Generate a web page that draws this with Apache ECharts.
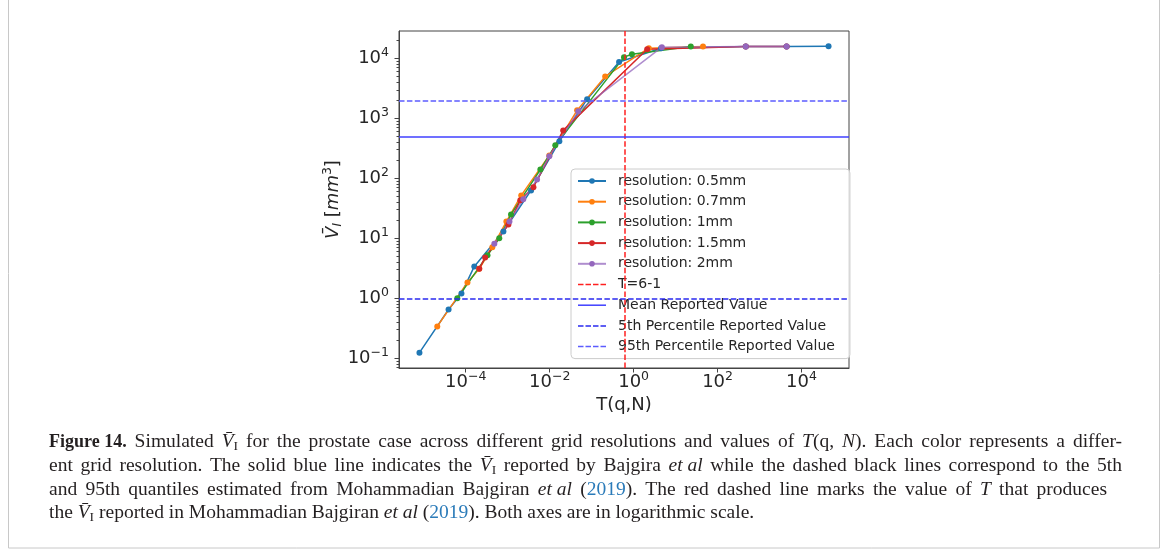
<!DOCTYPE html>
<html>
<head>
<meta charset="utf-8">
<title>Figure 14</title>
<script src="https://cdn.jsdelivr.net/npm/echarts@6/dist/echarts.min.js"></script>
<style>
  html, body { margin: 0; padding: 0; background: #fff; }
  #main { width: 1168px; height: 553px; }
</style>
</head>
<body>
<div id="main"></div>
<script>
// T(q,N) values and simulated volume (mm^3) for each grid resolution
var t05 = [7.9e-6, 3.9e-5, 7.9e-5, 1.6e-4, 7.9e-4, 3.6e-3, 1.7e-2, 7.8e-2, 0.45, 4.5, 470, 4400, 44000];
var v05 = [0.124, 0.65, 1.2, 3.4, 13, 63, 415, 2090, 8700, 14800, 15800, 15800, 15900];
var t07 = [2.1e-5, 1.1e-4, 2.1e-4, 4.3e-4, 9.3e-4, 2.1e-3, 9.8e-3, 0.045, 0.21, 2.3, 45];
var v07 = [0.34, 1.84, 3.1, 7.1, 19, 52, 240, 1360, 5000, 14800, 15800];
var t1 = [6.3e-5, 3.3e-4, 6.3e-4, 1.2e-3, 6.0e-3, 1.36e-2, 0.59, 0.91, 23];
var v1 = [1.0, 5.2, 10, 25, 140, 355, 10500, 11700, 15800];
var t15 = [2.1e-4, 2.9e-4, 1.04e-3, 2.0e-3, 4.1e-3, 0.021, 2.1, 470, 4400];
var v15 = [3.1, 4.8, 17, 43, 71, 630, 14200, 15800, 15800];
var t2 = [4.8e-4, 1.1e-3, 2.35e-3, 5.0e-3, 9.8e-3, 0.048, 4.7, 470, 4400];
var v2 = [8.1, 19, 45, 96, 234, 1310, 15400, 15800, 15800];

// reference values
var tMark = 0.6;
var meanVal = 500;
var p5Val = 1;
var p95Val = 2000;

// tick exponents (labels 10^n)
var xTickExp = [-4, -2, 0, 2, 4];
var yTickExp = [-1, 0, 1, 2, 3, 4];

(function () {
    var myChart = echarts.init(document.getElementById('main'));

    var FONT = 'DejaVu Sans';
    var INK = '#262626';

    function toLog(ts, vs) {
        return ts.map(function (t, i) { return [Math.log10(t), Math.log10(vs[i])]; });
    }

    var res = [
        { name: 'resolution: 0.5mm', color: '#1f77b4', data: toLog(t05, v05) },
        { name: 'resolution: 0.7mm', color: '#ff7f0e', data: toLog(t07, v07) },
        { name: 'resolution: 1mm', color: '#2ca02c', data: toLog(t1, v1) },
        { name: 'resolution: 1.5mm', color: '#d62728', data: toLog(t15, v15) },
        { name: 'resolution: 2mm', color: '#9467bd', data: toLog(t2, v2), opacity: 0.75 }
    ];

    // matplotlib style autoscale: 5% margin in log space
    var xs = [], ys = [];
    res.forEach(function (r) { r.data.forEach(function (p) { xs.push(p[0]); ys.push(p[1]); }); });
    var xMin = Math.min.apply(null, xs), xMax = Math.max.apply(null, xs);
    var yMin = Math.min.apply(null, ys), yMax = Math.max.apply(null, ys);
    var xPad = (xMax - xMin) * 0.05, yPad = (yMax - yMin) * 0.05;

    // minor ticks 2..9 x 10^n on the y axis
    var yMinor = [];
    for (var n = -2; n <= 4; n++) {
        for (var k = 2; k <= 9; k++) yMinor.push(Math.log10(k) + n);
    }

    function pow10(v) {
        var e = Math.round(v);
        return '{b|10}{s|' + (e < 0 ? '\u2212' + (-e) : e) + '}';
    }
    var powRich = {
        b: { fontSize: 18, fontFamily: FONT, color: INK },
        s: { fontSize: 12.5, fontFamily: FONT, color: INK, padding: [0, 0, 12, 0] }
    };

    var dash = 'path://M0,0h5.5v1.5h-5.5zM7.5,0h5.5v1.5h-5.5zM15,0h5.5v1.5h-5.5zM22.5,0h5.5v1.5h-5.5z';
    var solid = 'path://M0,0h28v1.5h-28z';

    var series = res.map(function (r) {
        return {
            name: r.name,
            type: 'line',
            data: r.data,
            color: r.color,
            symbol: 'circle',
            symbolSize: 6,
            itemStyle: { color: r.color },
            lineStyle: { width: 1.5, color: r.color, opacity: r.opacity || 1 },
            emphasis: { disabled: true }
        };
    });

    function refSeries(name, color, type, axisKey, value) {
        var item = {};
        item[axisKey] = Math.log10(value);
        return {
            name: name,
            type: 'line',
            data: [],
            color: color,
            itemStyle: { color: color },
            lineStyle: { color: color },
            markLine: {
                silent: true,
                symbol: ['none', 'none'],
                label: { show: false },
                lineStyle: { color: color, type: type, width: 1.5 },
                data: [item]
            }
        };
    }
    series.push(refSeries('T=6-1', '#ff2020', [5.5, 2.4], 'xAxis', tMark));
    series.push(refSeries('Mean Reported Value', '#4040ff', 'solid', 'yAxis', meanVal));
    series.push(refSeries('5th Percentile Reported Value', '#2a2af0', [5.5, 2.4], 'yAxis', p5Val));
    series.push(refSeries('95th Percentile Reported Value', '#5c5cff', [5.5, 2.4], 'yAxis', p95Val));

    var legendData = res.map(function (r) { return { name: r.name }; });
    legendData.push({ name: 'T=6-1', icon: dash });
    legendData.push({ name: 'Mean Reported Value', icon: solid });
    legendData.push({ name: '5th Percentile Reported Value', icon: dash });
    legendData.push({ name: '95th Percentile Reported Value', icon: dash });

    // caption, justified by widening the word gaps
    var capFont = '19.5px "Liberation Serif"';
    var capFonts = {
        b: 'bold 18px "Liberation Serif"',
        i: 'italic 19.5px "Liberation Serif"',
        s: '13.5px "Liberation Serif"',
        l: capFont
    };
    var capLines = [
        '{b|Figure 14.} Simulated {i|V\u0304}{s|I} for the prostate case across different grid resolutions and values of {i|T}(q, {i|N}). Each color represents a differ-',
        'ent grid resolution. The solid blue line indicates the {i|V\u0304}{s|I} reported by Bajgira {i|et al} while the dashed black lines correspond to the 5th',
        'and 95th quantiles estimated from Mohammadian Bajgiran {i|et al} ({l|2019}). The red dashed line marks the value of {i|T} that produces',
        'the {i|V\u0304}{s|I} reported in Mohammadian Bajgiran {i|et al} ({l|2019}). Both axes are in logarithmic scale.'
    ];
    var capY = [442, 466, 490, 513];
    var capRight = [1122, 1122, 1107, null];

    var ctx = document.createElement('canvas').getContext('2d');
    function textW(font, s) { ctx.font = font; return ctx.measureText(s).width; }

    function justify(line, right, key) {
        if (!right) return line;
        var re = /\{(\w+)\|([^}]*)\}|([^{]+)/g, m, w = 0, gaps = 0;
        while ((m = re.exec(line)) !== null) {
            if (m[1]) {
                w += textW(capFonts[m[1]], m[2]);
            } else {
                m[3].split(' ').forEach(function (part, j) {
                    if (j > 0) gaps++;
                    if (part) w += textW(capFont, part);
                });
            }
        }
        var gapW = (right - 49 - w) / gaps;
        capRich[key] = { font: capFont, width: gapW };
        return line.replace(/([^{]+)(?=\{|$)|\{\w+\|[^}]*\}/g, function (seg) {
            return seg.charAt(0) === '{' ? seg : seg.replace(/ /g, '{' + key + '| }');
        });
    }

    var capRich = {
        b: { font: capFonts.b, fill: '#231f20' },
        i: { font: capFonts.i, fill: '#231f20' },
        s: { font: capFonts.s, fill: '#231f20', padding: [8, 0, 0, 0] },
        l: { font: capFonts.l, fill: '#2b7bb9' }
    };

    var graphic = [{
        type: 'rect',
        silent: true,
        shape: { x: 8.5, y: -10, width: 1151, height: 558 },
        style: { fill: 'none', stroke: '#c8c8c8', lineWidth: 1 }
    }];
    capLines.forEach(function (txt, i) {
        graphic.push({
            type: 'text',
            silent: true,
            x: 49,
            y: capY[i],
            style: {
                text: justify(txt, capRight[i], 'g' + i),
                font: capFont, fill: '#231f20', verticalAlign: 'middle', rich: capRich
            }
        });
    });

    var option = {
        animation: false,
        textStyle: { fontFamily: FONT },
        grid: {
            left: 399, right: 319, top: 31, bottom: 185,
            show: true, borderColor: '#444', borderWidth: 1
        },
        legend: {
            orient: 'vertical',
            left: 571,
            top: 169,
            padding: [5, 15, 5, 6],
            itemWidth: 28,
            itemHeight: 7,
            itemGap: 6.7,
            backgroundColor: 'rgba(255,255,255,0.8)',
            borderColor: '#cccccc',
            borderWidth: 1,
            borderRadius: 4,
            selectedMode: false,
            textStyle: { fontSize: 14, fontFamily: FONT, color: INK, padding: [0, 0, 0, 7] },
            data: legendData
        },
        xAxis: {
            type: 'value',
            min: xMin - xPad,
            max: xMax + xPad,
            name: 'T(q,N)',
            nameLocation: 'middle',
            nameGap: 17,
            nameTextStyle: { fontSize: 18, fontFamily: FONT, color: INK, verticalAlign: 'top' },
            axisLine: { onZero: false, lineStyle: { color: '#444' } },
            axisTick: { customValues: xTickExp, length: 4.5, lineStyle: { color: '#444' } },
            axisLabel: { customValues: xTickExp, formatter: pow10, rich: powRich, margin: 2 },
            splitLine: { show: false }
        },
        yAxis: [{
            type: 'value',
            min: yMin - yPad,
            max: yMax + yPad,
            name: '{v|V\u0304}{sub|I} {n|[}{v|mm}{sup|3}{n|]}',
            nameLocation: 'middle',
            nameRotate: 90,
            nameGap: 50,
            nameTextStyle: {
                fontSize: 18, fontFamily: FONT, color: INK,
                rich: {
                    v: { fontSize: 18, fontFamily: FONT, fontStyle: 'italic', color: INK },
                    n: { fontSize: 18, fontFamily: FONT, color: INK },
                    sub: { fontSize: 12.5, fontFamily: FONT, fontStyle: 'italic', color: INK, padding: [8, 0, 0, 0] },
                    sup: { fontSize: 12.5, fontFamily: FONT, color: INK, padding: [0, 0, 11, 0] }
                }
            },
            axisLine: { onZero: false, lineStyle: { color: '#444' } },
            axisTick: { customValues: yTickExp, length: 4.5, lineStyle: { color: '#444' } },
            axisLabel: { customValues: yTickExp, formatter: pow10, rich: powRich, margin: 10 },
            splitLine: { show: false }
        }, {
            type: 'value',
            position: 'left',
            min: yMin - yPad,
            max: yMax + yPad,
            axisLine: { show: false, onZero: false },
            axisTick: { customValues: yMinor, length: 2.5, lineStyle: { color: '#444' } },
            axisLabel: { show: false },
            splitLine: { show: false }
        }],
        graphic: graphic,
        series: series
    };

    myChart.setOption(option);
})();
</script>
</body>
</html>
